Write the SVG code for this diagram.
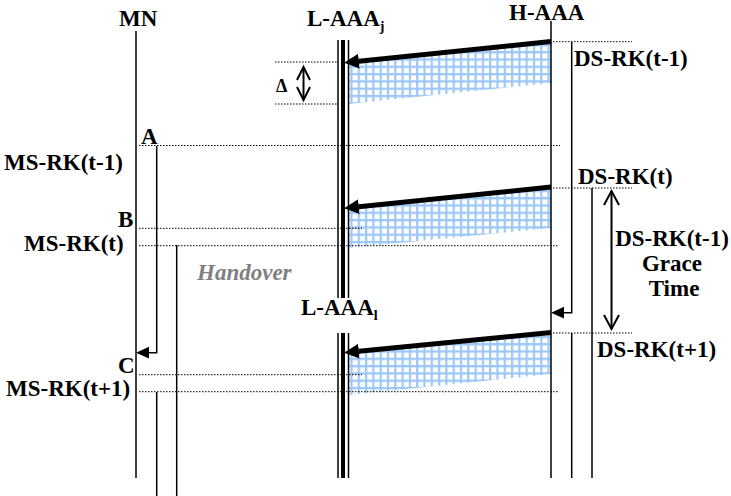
<svg xmlns="http://www.w3.org/2000/svg" width="731" height="496" viewBox="0 0 731 496">
<style>
.lbl{font-family:"Liberation Serif","Times New Roman",serif;font-weight:bold;font-size:23px;fill:#000}
.sub{font-size:14px}
.ho{font-style:italic;fill:#808080}
.v{stroke:#000;stroke-width:1.5;fill:none}
.thick{stroke:#000;stroke-width:4;fill:none}
.dot{stroke:#000;stroke-width:1;stroke-dasharray:1.5 1.5;fill:none}
.msg{stroke:#000;stroke-width:5;fill:none;marker-end:url(#bigHead)}
.hatch{fill:url(#grid);stroke:none}
.dbl{stroke:#000;stroke-width:2;fill:none}
</style>
<defs>
<pattern id="grid" patternUnits="userSpaceOnUse" width="7.3" height="7.3">
<rect width="7.3" height="7.3" fill="#ffffff"/>
<path d="M0,1.1 H7.3 M1.1,0 V7.3" stroke="#9cc7f7" stroke-width="2.2"/>
</pattern>
<marker id="bigHead" markerUnits="userSpaceOnUse" markerWidth="16" markerHeight="16" viewBox="0 -7 14 14" refX="0" refY="0" orient="auto">
<path d="M0,-6.5 L13,0 L0,6.5 z" fill="#000"/>
</marker>
<marker id="smallHead" markerUnits="userSpaceOnUse" markerWidth="14" markerHeight="14" viewBox="0 -6 13 12" refX="0" refY="0" orient="auto">
<path d="M0,-5.5 L12,0 L0,5.5 z" fill="#000"/>
</marker>
</defs>

<g id="hatches">
<polygon class="hatch" points="348,62 551,42 551,83 348,104"/>
<polygon class="hatch" points="348,207 551,188 551,228 348,248"/>
<polygon class="hatch" points="348,352 551,333 551,374 348,395"/>
</g>

<g id="MN">
<text class="lbl" x="119" y="26">MN</text>
<line class="v" x1="136" y1="31" x2="136" y2="478"/>
<line class="v" x1="176.7" y1="245" x2="176.7" y2="496"/>
<line class="v" x1="156.7" y1="392" x2="156.7" y2="496"/>
</g>

<g id="L-AAAj">
<text class="lbl" x="307" y="26">L-AAA<tspan class="sub" dy="5">j</tspan></text>
<line class="v" x1="338" y1="40" x2="338" y2="298"/>
<line class="thick" x1="343" y1="40" x2="343" y2="298"/>
<line class="v" x1="348.5" y1="40" x2="348.5" y2="298"/>
</g>

<g id="L-AAAl">
<text class="lbl" x="301" y="315">L-AAA<tspan class="sub" dy="5">l</tspan></text>
<line class="v" x1="338" y1="333" x2="338" y2="478"/>
<line class="thick" x1="343" y1="333" x2="343" y2="478"/>
<line class="v" x1="348.5" y1="333" x2="348.5" y2="478"/>
</g>

<g id="H-AAA">
<text class="lbl" x="509" y="20">H-AAA</text>
<line class="v" x1="551" y1="21" x2="551" y2="478"/>
<line class="v" x1="571.7" y1="333" x2="571.7" y2="478"/>
<line class="v" x1="592" y1="188" x2="592" y2="478"/>
</g>

<g id="dotted">
<line class="dot" x1="553" y1="41.7" x2="632" y2="41.7"/>
<line class="dot" x1="275" y1="62" x2="338" y2="62"/>
<line class="dot" x1="275" y1="104" x2="338" y2="104"/>
<line class="dot" x1="139" y1="145.5" x2="560" y2="145.5"/>
<line class="dot" x1="553" y1="188" x2="632" y2="188"/>
<line class="dot" x1="139" y1="228.3" x2="362" y2="228.3"/>
<line class="dot" x1="139" y1="245.7" x2="558" y2="245.7"/>
<line class="dot" x1="553" y1="333" x2="632" y2="333"/>
<line class="dot" x1="139" y1="374.7" x2="362" y2="374.7"/>
<line class="dot" x1="139" y1="391.7" x2="559" y2="391.7"/>
</g>

<g id="connectors">
<line class="msg" x1="551" y1="41.5" x2="358.9" y2="61.2"/>
<line class="msg" x1="551" y1="187" x2="358.9" y2="206.7"/>
<line class="msg" x1="551" y1="332.5" x2="358.9" y2="351.2"/>
<polyline class="v" points="156.7,146 156.7,352.7 149,352.7" marker-end="url(#smallHead)"/>
<polyline class="v" points="571.7,42 571.7,312.7 564,312.7" marker-end="url(#smallHead)"/>
<g id="delta-arrow">
<line class="dbl" x1="303.5" y1="67" x2="303.5" y2="100"/>
<polyline class="dbl" points="297,80 303.5,67 310,80"/>
<polyline class="dbl" points="297,87 303.5,100 310,87"/>
</g>
<g id="grace-arrow">
<line class="dbl" x1="611.5" y1="191" x2="611.5" y2="329"/>
<polyline class="dbl" points="604,205 611.5,191 619,205"/>
<polyline class="dbl" points="604,315 611.5,329 619,315"/>
</g>
</g>

<g id="labels">
<text class="lbl" x="574" y="66">DS-RK(t-1)</text>
<text class="lbl" x="276" y="92" style="font-size:18px">Δ</text>
<text class="lbl" x="141" y="144">A</text>
<text class="lbl" x="4" y="170">MS-RK(t-1)</text>
<text class="lbl" x="118" y="227">B</text>
<text class="lbl" x="24" y="251">MS-RK(t)</text>
<text class="lbl ho" x="197" y="280">Handover</text>
<text class="lbl" x="578" y="184">DS-RK(t)</text>
<text class="lbl" x="672" y="246" text-anchor="middle">DS-RK(t-1)</text>
<text class="lbl" x="672" y="271" text-anchor="middle">Grace</text>
<text class="lbl" x="674" y="296" text-anchor="middle">Time</text>
<text class="lbl" x="597" y="357">DS-RK(t+1)</text>
<text class="lbl" x="118" y="373">C</text>
<text class="lbl" x="6" y="396">MS-RK(t+1)</text>
</g>
</svg>
